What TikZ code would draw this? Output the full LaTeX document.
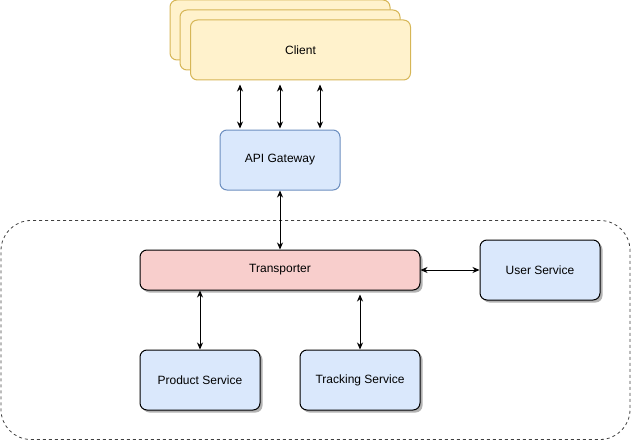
\documentclass[tikz,border=0pt]{standalone}
\usepackage{fontspec}
\setmainfont{Liberation Sans}
\usetikzlibrary{arrows.meta,shadows}
\definecolor{clientfill}{HTML}{FFF2CC}
\definecolor{clientline}{HTML}{D6B656}
\definecolor{svcfill}{HTML}{DAE8FC}
\definecolor{svcline}{HTML}{6C8EBF}
\definecolor{busfill}{HTML}{F8CECC}
\begin{document}
\begin{tikzpicture}[x=1pt,y=-1pt,
  box/.style={draw=black,line width=1pt,rounded corners=7pt,inner sep=0pt,
    minimum width=120pt,minimum height=60pt,font=\fontsize{12}{14}\selectfont},
  shade/.style={drop shadow={shadow xshift=2.5pt,shadow yshift=-2.5pt,opacity=0.3,fill=black}},
  clientbox/.style={box,fill=clientfill,draw=clientline,minimum width=220pt},
  svcbox/.style={box,fill=svcfill,shade},
  conn/.style={line width=0.8pt,{Stealth[length=7pt,width=6pt]}-{Stealth[length=7pt,width=6pt]}}]
\useasboundingbox (0,0) rectangle (631,441);
\node[draw=black!75,dashed,line width=0.8pt,rounded corners=30pt,minimum width=629pt,minimum height=219pt] (group) at (315.5,330) {};
\node[clientbox] (client3) at (280,30) {};
\node[clientbox] (client2) at (290,40) {};
\node[clientbox] (client) at (300.5,50) {Client};
\node[box,fill=svcfill,draw=svcline] (api) at (280,160) {API Gateway};
\node[box,fill=busfill,shade,minimum width=280pt,minimum height=40pt] (transporter) at (280,270) {Transporter};
\node[svcbox] (user) at (540,270) {User Service};
\node[svcbox] (product) at (200,380) {Product Service};
\node[svcbox] (tracking) at (360,380) {Tracking Service};
\foreach \dx in {-40,0,40}
  \draw[conn,shorten <=4pt,shorten >=1pt] ([xshift=\dx pt]api.north |- client.south) -- ([xshift=\dx pt]api.north);
\draw[conn] (api.south) -- (transporter.north);
\draw[conn] (transporter.east) -- (user.west);
\draw[conn] (product.north |- transporter.south) -- (product.north);
\draw[conn,shorten <=4pt] (tracking.north |- transporter.south) -- (tracking.north);
\end{tikzpicture}
\end{document}
